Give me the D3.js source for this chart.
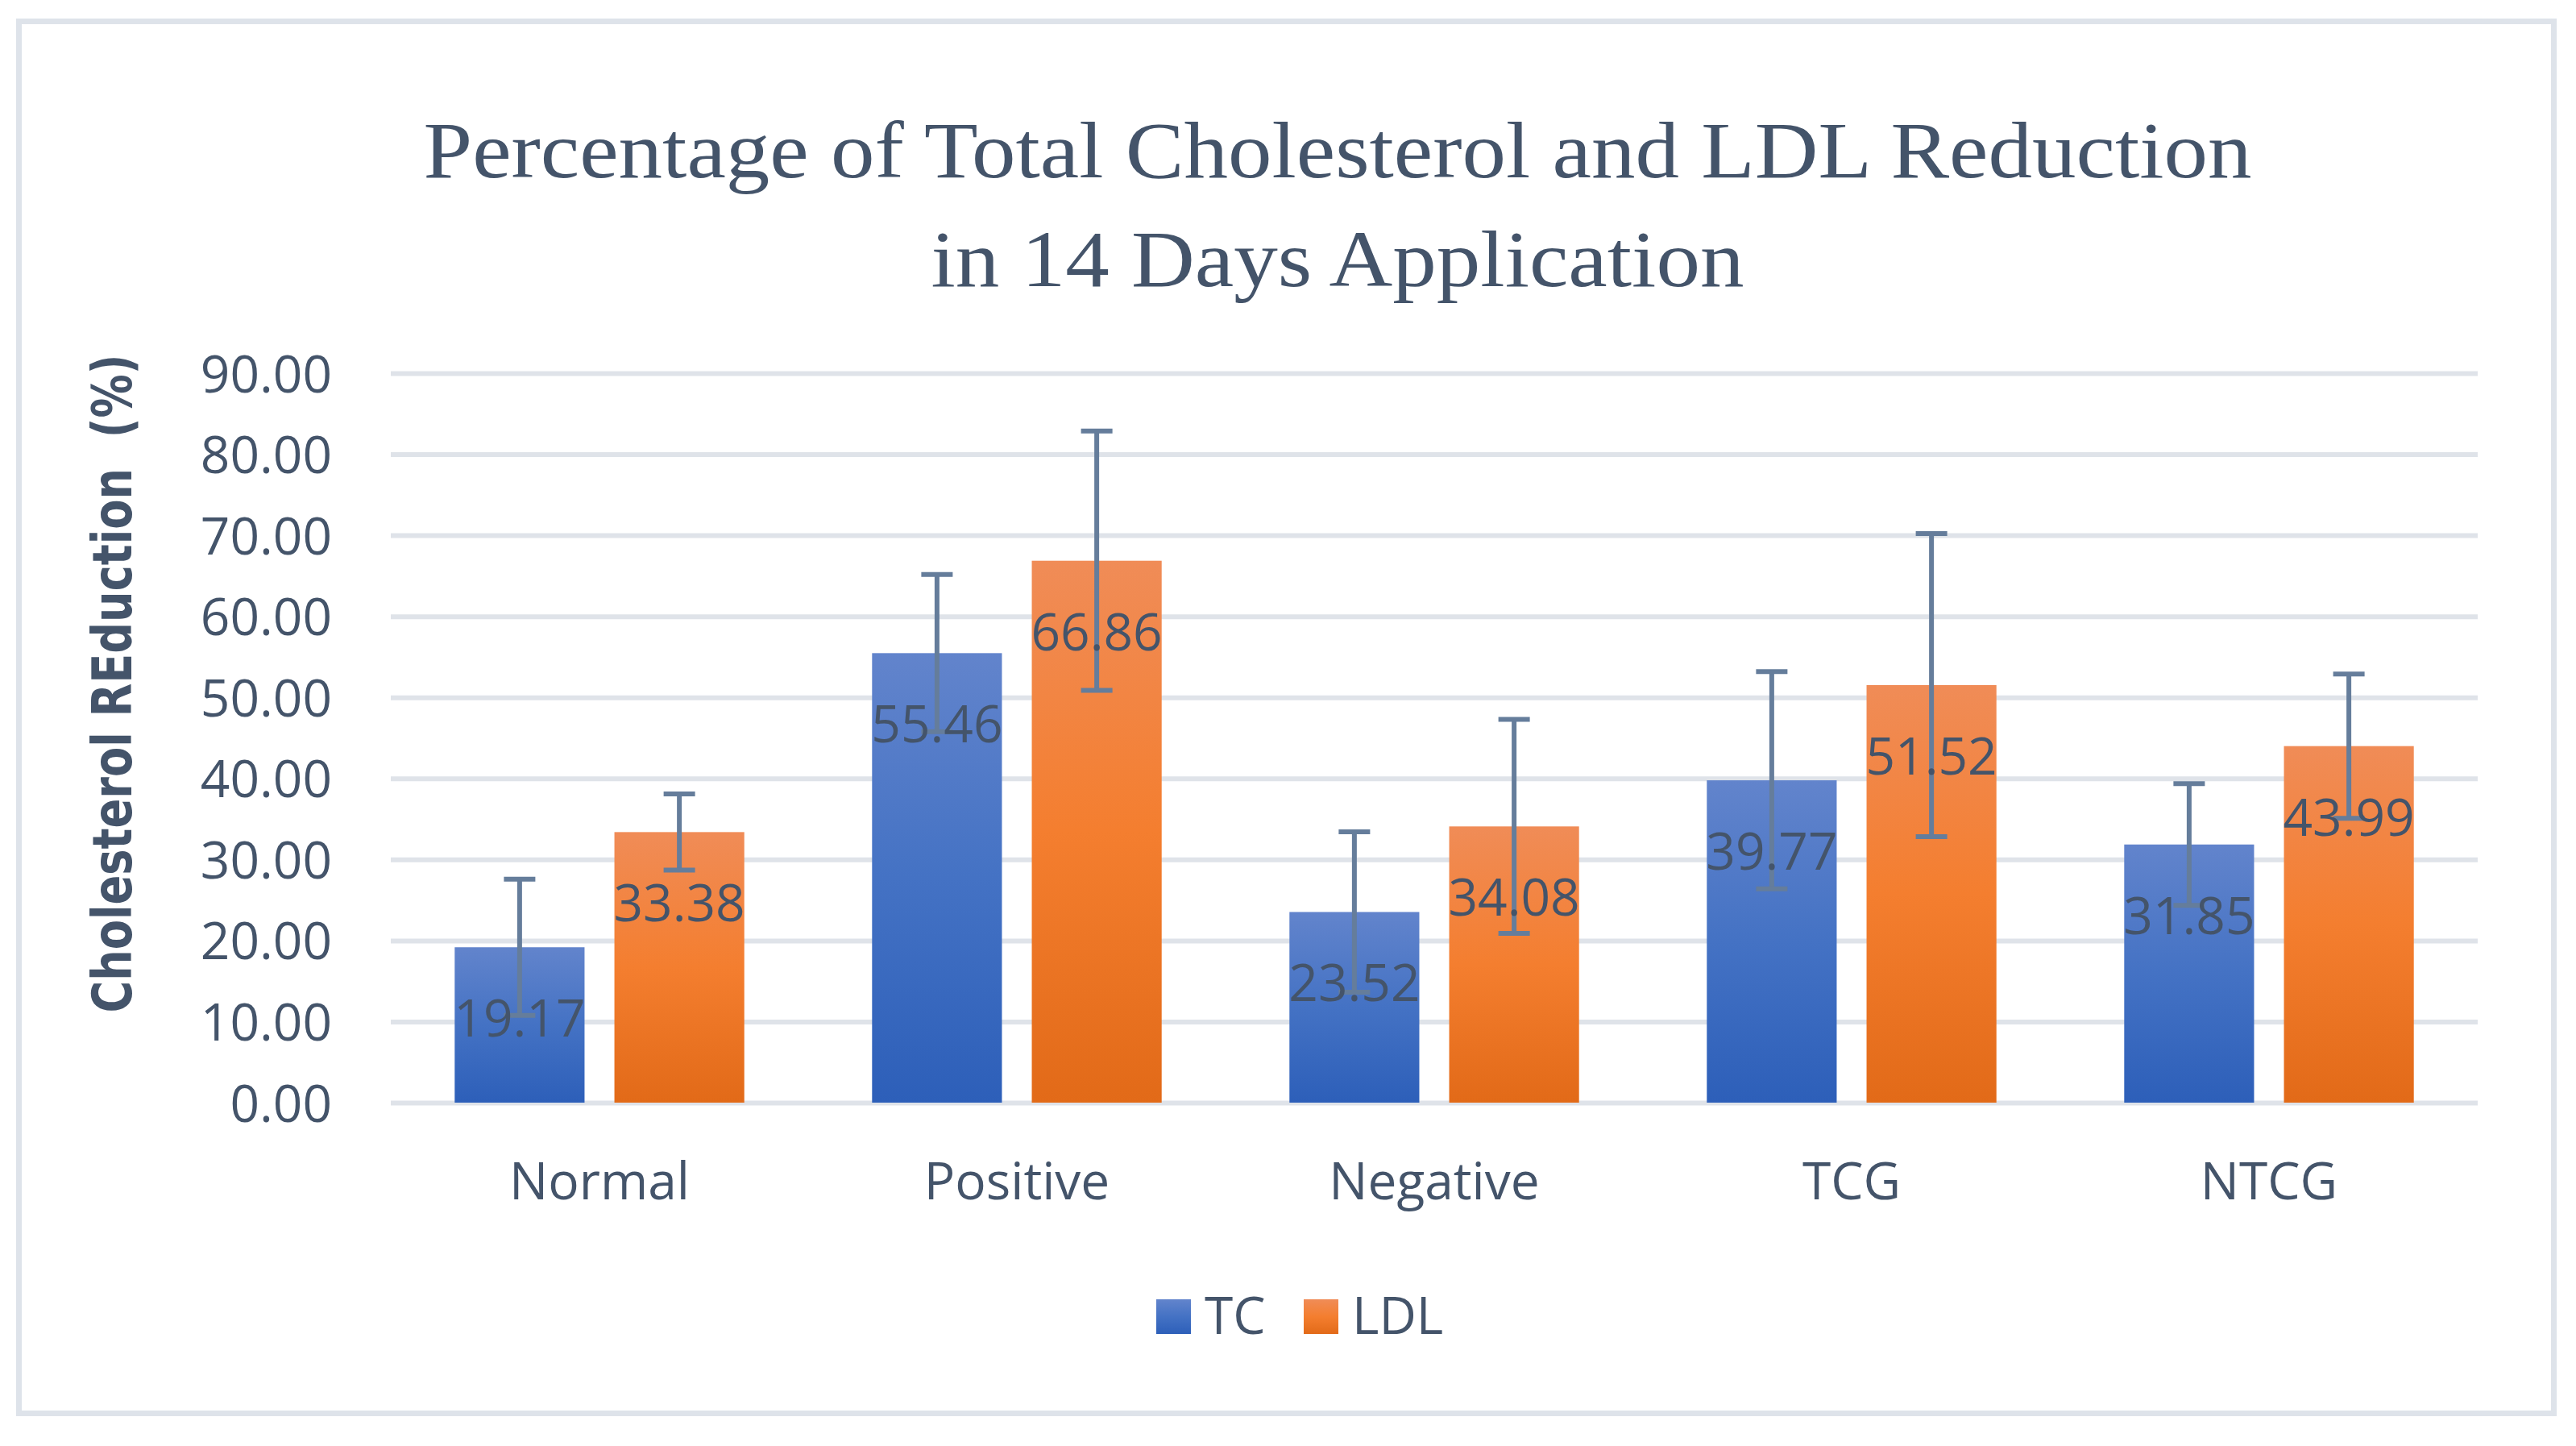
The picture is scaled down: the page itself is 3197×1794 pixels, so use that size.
<!DOCTYPE html>
<html>
<head>
<meta charset="utf-8">
<script src="https://cdn.jsdelivr.net/npm/d3@7"></script>
<style>
  body { margin: 0; background: #fff; }
  svg { display: block; }
</style>
</head>
<body>
<div class="center"></div>
<script>
// chart data
var categories = ["Normal", "Positive", "Negative", "TCG", "NTCG"];
var seriesNames = ["TC", "LDL"];
var tcValues = [19.17, 55.46, 23.52, 39.77, 31.85];
var ldlValues = [33.38, 66.86, 34.08, 51.52, 43.99];
var tcErrors = [8.4, 9.7, 9.9, 13.4, 7.5];
var ldlErrors = [4.7, 16.0, 13.2, 18.7, 8.9];
var yTicks = [0, 10, 20, 30, 40, 50, 60, 70, 80, 90];
var titleLines = ["Percentage of Total Cholesterol and LDL Reduction", "in 14 Days Application"];
var yLabel = "Cholesterol REduction  (%)";

var W = 3197, H = 1794;
var margin = {top: 463, right: 122, bottom: 426, left: 485},
    width = W - margin.left - margin.right,
    height = H - margin.top - margin.bottom;

var textColor = "#44546a";
var gridColor = "#dfe3e9";
var errColor = "#657d9b";

// scales
var x0 = d3.scaleBand().domain(categories).range([0, width]);
var x1 = d3.scaleBand().domain(seriesNames).range([0, x0.bandwidth()])
    .paddingInner(0.187).paddingOuter(0.4);
var y = d3.scaleLinear().domain([0, 90]).range([height, 0]);

var svg = d3.select("div.center").append("svg")
    .attr("width", W)
    .attr("height", H);

svg.append("rect").attr("width", W).attr("height", H).attr("fill", "#fff");

// gradients for the two series
var defs = svg.append("defs");
var gradStops = {
  TC: ["#6284cc", "#4472c4", "#2d5fb9"],
  LDL: ["#f08c57", "#f47e2f", "#e26a18"]
};
seriesNames.forEach(function(s) {
  var g = defs.append("linearGradient").attr("id", "grad-" + s)
      .attr("x1", 0).attr("y1", 0).attr("x2", 0).attr("y2", 1);
  g.append("stop").attr("offset", "0%").attr("stop-color", gradStops[s][0]);
  g.append("stop").attr("offset", "50%").attr("stop-color", gradStops[s][1]);
  g.append("stop").attr("offset", "100%").attr("stop-color", gradStops[s][2]);
});

// outer frame
svg.append("rect")
    .attr("x", 23.5).attr("y", 26.5)
    .attr("width", 3146).attr("height", 1727)
    .attr("fill", "none")
    .attr("stroke", "#dee3ea")
    .attr("stroke-width", 7);

// title
var title = svg.append("g")
    .attr("font-family", "'Liberation Serif', 'Times New Roman', serif")
    .attr("font-size", 100)
    .attr("fill", textColor)
    .attr("text-anchor", "middle");
title.append("text").attr("x", 1660).attr("y", 220)
    .attr("textLength", 2269).attr("lengthAdjust", "spacingAndGlyphs")
    .text(titleLines[0]);
title.append("text").attr("x", 1660).attr("y", 355)
    .attr("textLength", 1009).attr("lengthAdjust", "spacingAndGlyphs")
    .text(titleLines[1]);

var g = svg.append("g")
    .attr("transform", "translate(" + margin.left + "," + margin.top + ")");

// Y axis with gridlines
var yAxis = g.append("g")
    .call(d3.axisLeft(y)
        .tickValues(yTicks)
        .tickSize(-width)
        .tickPadding(73)
        .tickFormat(d3.format(".2f")));
yAxis.select(".domain").remove();
yAxis.selectAll(".tick line")
    .attr("stroke", gridColor)
    .attr("stroke-width", 6);
yAxis.selectAll(".tick text")
    .attr("fill", textColor)
    .attr("font-family", "'Open Sans', sans-serif")
    .attr("font-size", 64)
    .attr("dy", "0.36em");

// X axis labels
var xAxis = g.append("g")
    .attr("transform", "translate(0," + height + ")")
    .call(d3.axisBottom(x0).tickSize(0).tickPadding(120));
xAxis.select(".domain").remove();
xAxis.selectAll(".tick text")
    .attr("fill", textColor)
    .attr("font-family", "'Open Sans', sans-serif")
    .attr("font-size", 64)
    .attr("dy", 0);

// build rows for bars
var rows = [];
categories.forEach(function(c, i) {
  rows.push({cat: c, s: "TC", v: tcValues[i], e: tcErrors[i]});
  rows.push({cat: c, s: "LDL", v: ldlValues[i], e: ldlErrors[i]});
});

function bx(d) { return x0(d.cat) + x1(d.s); }
function cx(d) { return bx(d) + x1.bandwidth() / 2; }

// bars
g.selectAll(".bar")
    .data(rows)
    .enter().append("rect")
    .attr("class", "bar")
    .attr("x", bx)
    .attr("y", function(d) { return y(d.v); })
    .attr("width", x1.bandwidth())
    .attr("height", function(d) { return height - y(d.v); })
    .attr("fill", function(d) { return "url(#grad-" + d.s + ")"; });

// error bars
var err = g.selectAll(".err")
    .data(rows)
    .enter().append("g")
    .attr("class", "err")
    .attr("stroke", errColor)
    .attr("stroke-width", 6);
err.append("line")
    .attr("x1", cx).attr("x2", cx)
    .attr("y1", function(d) { return y(d.v + d.e); })
    .attr("y2", function(d) { return y(d.v - d.e); });
err.append("line")
    .attr("x1", function(d) { return cx(d) - 19.5; })
    .attr("x2", function(d) { return cx(d) + 19.5; })
    .attr("y1", function(d) { return y(d.v + d.e); })
    .attr("y2", function(d) { return y(d.v + d.e); });
err.append("line")
    .attr("x1", function(d) { return cx(d) - 19.5; })
    .attr("x2", function(d) { return cx(d) + 19.5; })
    .attr("y1", function(d) { return y(d.v - d.e); })
    .attr("y2", function(d) { return y(d.v - d.e); });

// data labels (drawn over the error bars)
g.selectAll(".label")
    .data(rows)
    .enter().append("text")
    .attr("class", "label")
    .attr("x", cx)
    .attr("y", function(d) { return y(d.v) + 111; })
    .attr("text-anchor", "middle")
    .attr("fill", textColor)
    .attr("font-family", "'Open Sans', sans-serif")
    .attr("font-size", 64)
    .text(function(d) { return d3.format(".2f")(d.v); });

// Y axis title
svg.append("text")
    .attr("transform", "translate(163,848) rotate(-90)")
    .attr("text-anchor", "middle")
    .attr("fill", textColor)
    .attr("font-family", "'Liberation Sans Narrow', 'DejaVu Sans Condensed', sans-serif")
    .attr("font-weight", "bold")
    .attr("font-size", 68)
    .attr("textLength", 817)
    .attr("lengthAdjust", "spacingAndGlyphs")
    .style("white-space", "pre")
    .text(yLabel);

// legend
var legendX = [1435, 1618];
var legend = svg.selectAll(".legend")
    .data(seriesNames)
    .enter().append("g")
    .attr("class", "legend")
    .attr("transform", function(d, i) { return "translate(" + legendX[i] + ",1612)"; });
legend.append("rect")
    .attr("width", 43).attr("height", 43)
    .attr("fill", function(d) { return "url(#grad-" + d + ")"; });
legend.append("text")
    .attr("x", 60).attr("y", 43)
    .attr("fill", textColor)
    .attr("font-family", "'Open Sans', sans-serif")
    .attr("font-size", 64)
    .text(function(d) { return d; });
</script>
</body>
</html>
